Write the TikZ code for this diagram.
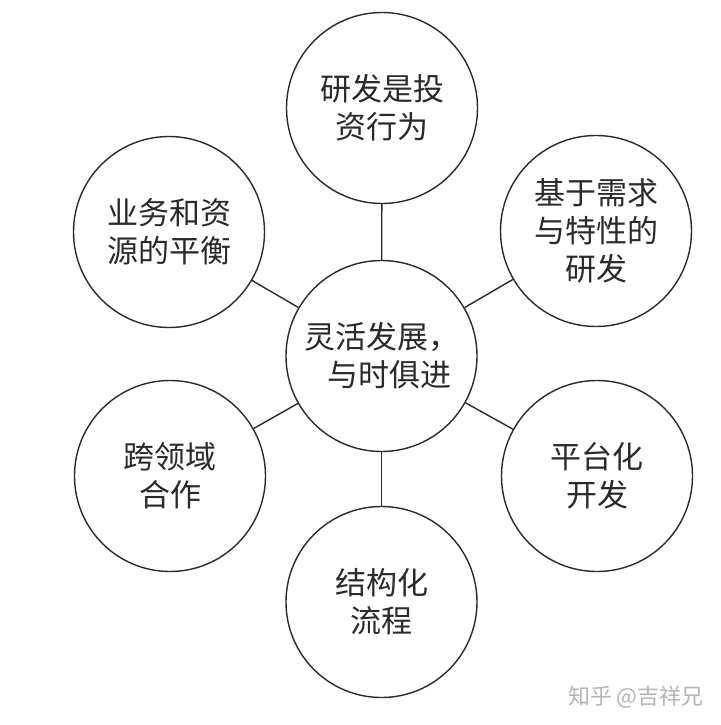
\documentclass[tikz,border=0pt]{standalone}
\usepackage{fontspec}
\newfontfamily\cjk{Noto Sans CJK SC}
\definecolor{ink}{HTML}{2A2A2A}
\definecolor{mark}{HTML}{B4B4B4}
\begin{document}
\begin{tikzpicture}[x=1pt,y=-1pt,
  bubble/.style={circle,draw=ink,line width=1.4pt,minimum size=191pt,inner sep=0pt,
    align=center,text=ink,font=\cjk\fontsize{31}{38}\selectfont},
  link/.style={draw=ink,line width=1.4pt}]
\useasboundingbox[fill=white] (0,0) rectangle (720,725);
\node[bubble] (c) at (381.5,356) {灵活发展，\\\hspace*{0.5em}与时俱进};
\node[bubble] (t) at (382,108) {研发是投\\资行为};
\node[bubble] (ul) at (169,232) {业务和资\\源的平衡};
\node[bubble] (ur) at (596,231) {基于需求\\与特性的\\研发};
\node[bubble] (ll) at (170,476) {跨领域\\合作};
\node[bubble] (lr) at (597,476) {平台化\\开发};
\node[bubble] (b) at (381.5,602) {结构化\\流程};
\draw[link] (c) -- (t);
\draw[link] (c) -- (ul);
\draw[link] (c) -- (ur);
\draw[link] (c) -- (ll);
\draw[link] (c) -- (lr);
\draw[link] (c) -- (b);
\node[text=mark,font=\cjk\fontsize{22}{26}\selectfont,anchor=east,inner sep=0pt] (wm) at (704,697) {知乎 @吉祥兄};
\end{tikzpicture}
\end{document}
